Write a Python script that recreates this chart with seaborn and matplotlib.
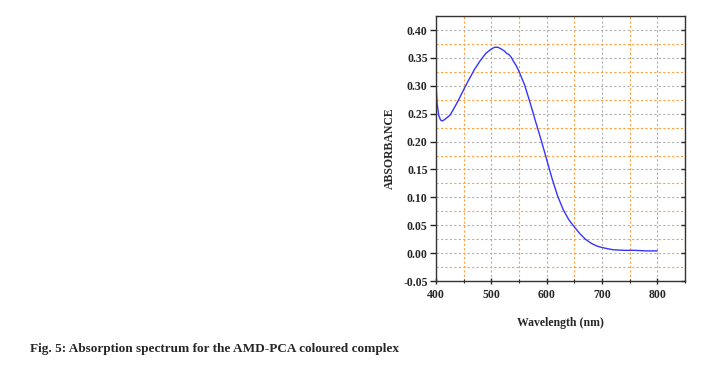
import numpy as np
import pandas as pd
import matplotlib
matplotlib.use('Agg')
import matplotlib.pyplot as plt
import seaborn as sns
from matplotlib.ticker import MultipleLocator, FormatStrFormatter

# values
wavelength = [400, 402, 405, 408, 411, 415, 420, 425, 430, 440, 450, 460, 470, 480,
              490, 500, 506, 512, 518, 524, 528, 532, 536, 540, 545, 550, 560, 570,
              580, 590, 600, 610, 620, 630, 640, 650, 660, 670, 680, 690, 700, 710,
              720, 740, 760, 780, 800]
absorbance = [0.304, 0.268, 0.247, 0.239, 0.237, 0.239, 0.243, 0.247, 0.255, 0.273,
              0.293, 0.312, 0.330, 0.345, 0.358, 0.366, 0.369, 0.369, 0.366, 0.362,
              0.358, 0.356, 0.351, 0.344, 0.336, 0.326, 0.302, 0.270, 0.236, 0.203,
              0.168, 0.133, 0.102, 0.078, 0.060, 0.047, 0.035, 0.025, 0.018, 0.013,
              0.010, 0.008, 0.006, 0.005, 0.005, 0.004, 0.004]

df = pd.DataFrame({'wavelength': wavelength, 'absorbance': absorbance})

sns.set_theme(style='white')
plt.rcParams['font.family'] = ['Liberation Serif', 'DejaVu Serif']

fig = plt.figure(figsize=(7.21, 3.65), dpi=100)
ax = fig.add_axes([0.6047, 0.2301, 0.3453, 0.7259])

sns.lineplot(data=df, x='wavelength', y='absorbance', color='#3535ff', linewidth=1.0, ax=ax)

ax.set_xlim(400, 850)
ax.set_ylim(-0.05, 0.425)
ax.xaxis.set_minor_locator(MultipleLocator(50))
ax.yaxis.set_major_locator(MultipleLocator(0.05))
ax.yaxis.set_minor_locator(MultipleLocator(0.025))
ax.set_xticks([400, 500, 600, 700, 800])
ax.yaxis.set_major_formatter(FormatStrFormatter('%.2f'))

ax.grid(which='major', color='#b0b0b0', linestyle=(0, (2, 2)), linewidth=0.8)
ax.grid(which='minor', color='#ffa040', linestyle=(0, (2, 2)), linewidth=0.8)

for s in ax.spines.values():
    s.set_color('#333333')
    s.set_linewidth(1.0)

ax.tick_params(axis='y', which='major', direction='out', length=4, width=1,
               labelsize=8.5, pad=2, left=True, right=True)
ax.tick_params(axis='y', which='minor', left=False, right=False)
ax.tick_params(axis='x', which='major', direction='inout', length=5, width=1,
               labelsize=8.5, pad=3, bottom=True)
ax.tick_params(axis='x', which='minor', direction='inout', length=3, width=0.8, bottom=True)
for t in ax.yaxis.get_major_ticks():
    t.tick2line.set_marker(matplotlib.lines.TICKLEFT)
    t.tick2line.set_markersize(3)
for lab in ax.get_xticklabels() + ax.get_yticklabels():
    lab.set_fontweight('bold')

ax.set_xlabel('Wavelength (nm)', fontsize=8.5, fontweight='bold', labelpad=12)
ax.set_ylabel('ABSORBANCE', fontsize=8.5, fontweight='bold', labelpad=5)

fig.text(0.042, 0.044, 'Fig. 5: Absorption spectrum for the AMD-PCA coloured complex',
         fontsize=9.5, fontweight='bold', ha='left', va='center')

fig.savefig('out.png', dpi=100)
